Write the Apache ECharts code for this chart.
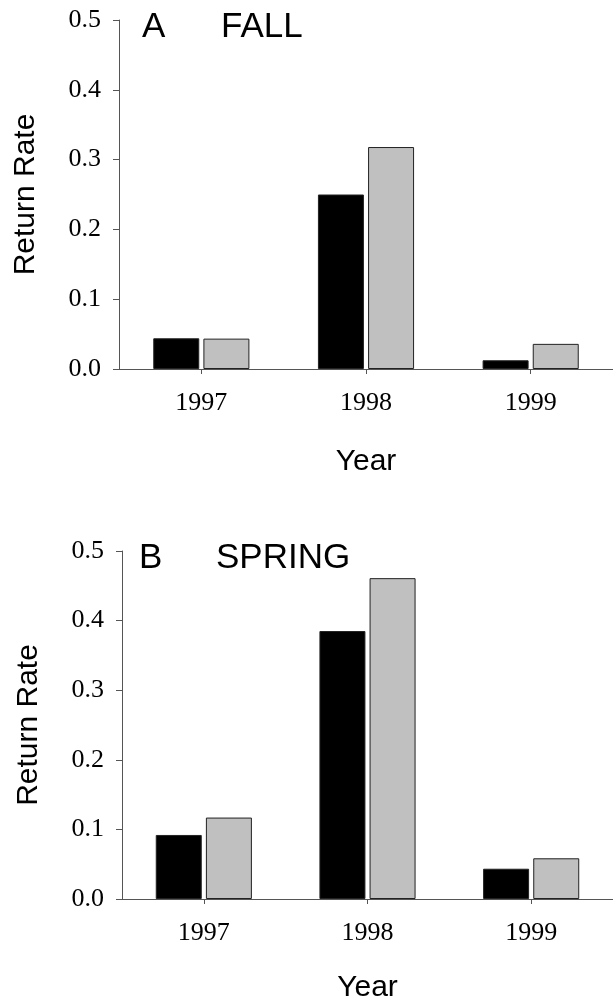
<!DOCTYPE html>
<html>
<head>
<meta charset="utf-8">
<script src="https://cdn.jsdelivr.net/npm/echarts@6/dist/echarts.min.js"></script>
<style>html,body{margin:0;padding:0;background:#fff;}#c{width:613px;height:1006px;}</style>
</head>
<body>
<div id="c"></div>
<script>
var years = ['1997', '1998', '1999'];
var yTickLabels = ['0.0', '0.1', '0.2', '0.3', '0.4', '0.5'];
var fallBlack = [0.044, 0.25, 0.0125];
var fallGray = [0.0435, 0.318, 0.036];
var springBlack = [0.092, 0.385, 0.0435];
var springGray = [0.117, 0.461, 0.0585];

var serif = '"Liberation Serif", "Times New Roman", serif';
var sans = '"Liberation Sans", Arial, sans-serif';
var axisColor = '#555';

function xAx(gi, gap) {
  return {
    type: 'category', gridIndex: gi, data: years, boundaryGap: true,
    name: 'Year', nameLocation: 'middle', nameGap: gap,
    nameTextStyle: {fontFamily: sans, fontSize: 30, color: '#000'},
    axisLine: {show: true, lineStyle: {color: axisColor, width: 1}},
    axisTick: {show: true, alignWithLabel: true, length: 5, lineStyle: {color: axisColor}},
    axisLabel: {fontFamily: serif, fontSize: 26, color: '#000', margin: 21},
    splitLine: {show: false}
  };
}
function yAx(gi) {
  return {
    type: 'value', gridIndex: gi, min: 0, max: 0.5, interval: 0.1,
    name: 'Return Rate', nameLocation: 'middle', nameGap: 78, nameRotate: 90,
    nameTextStyle: {fontFamily: sans, fontSize: 30, color: '#000'},
    axisLine: {show: true, lineStyle: {color: axisColor, width: 1}},
    axisTick: {show: true, length: 6, lineStyle: {color: axisColor}},
    axisLabel: {fontFamily: serif, fontSize: 26, color: '#000', margin: 18,
      formatter: function (v) { return yTickLabels[Math.round(v * 10)]; }},
    splitLine: {show: false}
  };
}
function barS(gi, data, fill) {
  return {
    type: 'bar', xAxisIndex: gi, yAxisIndex: gi, data: data,
    barWidth: 46, barGap: '9%', silent: true,
    itemStyle: {color: fill, borderColor: '#222', borderWidth: 1}
  };
}
var titleStyle = {fontFamily: sans, fontSize: 35, fontWeight: 'normal', color: '#000'};

var chart = echarts.init(document.getElementById('c'), null, {renderer: 'canvas'});
chart.setOption({
  animation: false,
  backgroundColor: '#fff',
  title: [
    {text: 'A', left: 142, top: 10, padding: 0, textStyle: titleStyle},
    {text: 'FALL', left: 221, top: 10, padding: 0, textStyle: titleStyle},
    {text: 'B', left: 139, top: 541, padding: 0, textStyle: titleStyle},
    {text: 'SPRING', left: 216, top: 541, padding: 0, textStyle: titleStyle}
  ],
  grid: [
    {left: 119, top: 20, width: 500, height: 349},
    {left: 122, top: 551, width: 500, height: 348}
  ],
  xAxis: [xAx(0, 78), xAx(1, 74)],
  yAxis: [yAx(0), yAx(1)],
  series: [
    barS(0, fallBlack, '#000'),
    barS(0, fallGray, '#c0c0c0'),
    barS(1, springBlack, '#000'),
    barS(1, springGray, '#c0c0c0')
  ]
});
</script>
</body>
</html>
